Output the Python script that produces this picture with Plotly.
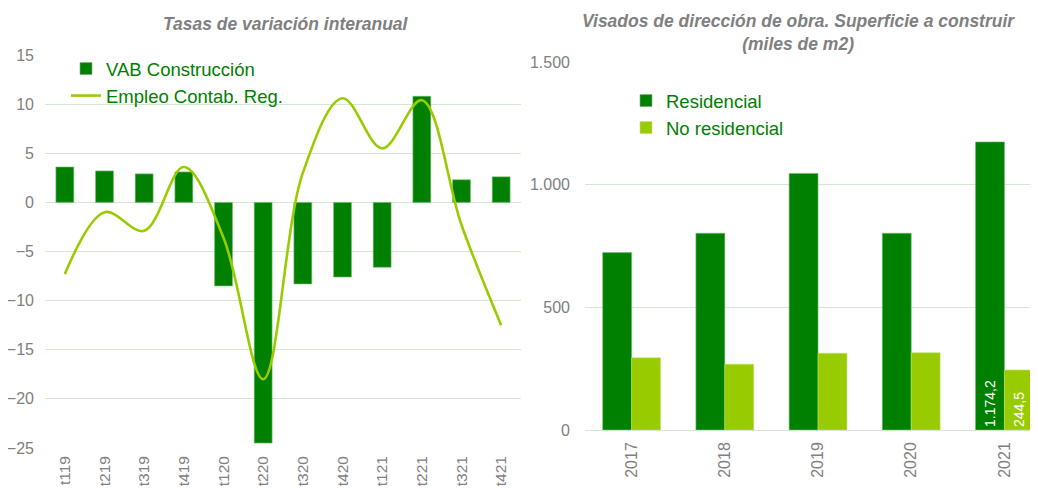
import plotly.graph_objects as go

# ---- Data ----
trimestres = ["t119", "t219", "t319", "t419", "t120", "t220",
              "t320", "t420", "t121", "t221", "t321", "t421"]
vab_construccion = [3.6, 3.2, 2.9, 3.1, -8.5, -24.5, -8.3, -7.6, -6.6, 10.8, 2.3, 2.6]
empleo_contab = [-7.3, -1.0, -2.9, 3.6, -3.6, -18.0, 3.0, 10.6, 5.5, 10.4, -2.3, -12.5]

anios = ["2017", "2018", "2019", "2020", "2021"]
residencial = [723, 802, 1046, 802, 1174.2]
no_residencial = [294, 268, 313, 315, 244.5]
etiquetas_anio = ["2021"]  # years whose values are labelled

# The page body has an 8px margin, so the figure is drawn 8px in from the window edge.
OFF = 8
W, H = 1038 - OFF, 488 - OFF
DARK = "#008000"
LIGHT = "#99cc00"
GRID = "#d5e8cf"
GREY = "#808080"
FONT = "Liberation Sans, Arial, sans-serif"


def fmt_es(v):
    s = f"{v:,.1f}"
    return s.replace(",", "X").replace(".", ",").replace("X", ".")


def px_x(p):
    return (p - OFF) / W


def px_y(p):
    return 1 - (p - OFF) / H


res_text = [fmt_es(v) if a in etiquetas_anio else "" for a, v in zip(anios, residencial)]
nores_text = [fmt_es(v) if a in etiquetas_anio else "" for a, v in zip(anios, no_residencial)]

fig = go.Figure()

fig.add_trace(go.Bar(
    x=trimestres, y=vab_construccion, name="VAB Construcción",
    marker=dict(color=DARK, line=dict(color="#6fb86f", width=0.6)),
    width=0.45, xaxis="x", yaxis="y", legend="legend",
))
fig.add_trace(go.Scatter(
    x=trimestres, y=empleo_contab, name="Empleo Contab. Reg.", mode="lines",
    line=dict(color=LIGHT, width=2.6, shape="spline", smoothing=1.0),
    xaxis="x", yaxis="y", legend="legend",
))

fig.add_trace(go.Bar(
    x=anios, y=residencial, name="Residencial",
    marker=dict(color=DARK, line=dict(color="#6fb86f", width=0.6)),
    width=0.31, offset=-0.31, xaxis="x2", yaxis="y2",
    text=res_text, textposition="inside", insidetextanchor="start", textangle=-90,
    insidetextfont=dict(color="white", size=14, family=FONT),
    legend="legend2", legendgroup="r",
))
fig.add_trace(go.Bar(
    x=anios, y=no_residencial, name="No residencial",
    marker=dict(color=LIGHT, line=dict(color="#bfe066", width=0.6)),
    width=0.31, offset=0.0, xaxis="x2", yaxis="y2",
    text=nores_text, textposition="inside", insidetextanchor="start", textangle=-90,
    insidetextfont=dict(color="white", size=14, family=FONT),
    legend="legend2", legendgroup="n",
))

tickfont = dict(family=FONT, size=16, color=GREY)

fig.update_layout(
    width=W, height=H,
    margin=dict(l=0, r=0, t=0, b=0),
    paper_bgcolor="white", plot_bgcolor="white",
    barmode="overlay",
    separators=",.",
    font=dict(family=FONT, color=GREY),
    xaxis=dict(domain=[px_x(45), px_x(521)], anchor="y", range=[-0.5, 11.5],
               tickangle=-90, showgrid=False, showline=False, ticks="",
               tickfont=dict(family=FONT, size=15.5, color=GREY),
               ticklabelstandoff=4, automargin=False),
    yaxis=dict(domain=[px_y(448), px_y(55)], anchor="x", range=[-25, 15], dtick=5,
               showgrid=True, gridcolor=GRID, gridwidth=1, zeroline=False,
               showline=False, ticks="", tickfont=tickfont,
               ticklabelstandoff=10, automargin=False),
    xaxis2=dict(domain=[px_x(585), 1.0], anchor="y2", range=[-0.5, 4.36],
                tickangle=-90, showgrid=False, showline=False, ticks="",
                tickfont=tickfont, ticklabelstandoff=8, automargin=False),
    yaxis2=dict(domain=[px_y(430), px_y(62)], anchor="x2", range=[0, 1500], dtick=500,
                separatethousands=True, showgrid=True, gridcolor=GRID, gridwidth=1,
                zeroline=True, zerolinecolor=GRID, zerolinewidth=1,
                showline=False, ticks="", tickfont=tickfont,
                ticklabelstandoff=14, automargin=False),
    legend=dict(x=px_x(66), y=px_y(50), xanchor="left", yanchor="top",
                bgcolor="rgba(0,0,0,0)", font=dict(family=FONT, size=18.5, color=DARK),
                tracegroupgap=0, itemwidth=30),
    legend2=dict(x=px_x(626), y=px_y(82), xanchor="left", yanchor="top",
                 bgcolor="rgba(0,0,0,0)", font=dict(family=FONT, size=18.5, color=DARK),
                 tracegroupgap=0, itemwidth=30),
    showlegend=True,
    annotations=[
        dict(text="Tasas de variación interanual", x=px_x(286), y=px_y(24),
             xref="paper", yref="paper", xanchor="center", yanchor="middle",
             showarrow=False,
             font=dict(family=FONT, size=17.5, color=GREY, weight="bold", style="italic")),
        dict(text="Visados de dirección de obra. Superficie a construir<br>(miles de m2)",
             x=px_x(798), y=px_y(32.5), xref="paper", yref="paper",
             xanchor="center", yanchor="middle", showarrow=False,
             font=dict(family=FONT, size=17.5, color=GREY, weight="bold", style="italic")),
    ],
)

fig.write_html("out.html")
